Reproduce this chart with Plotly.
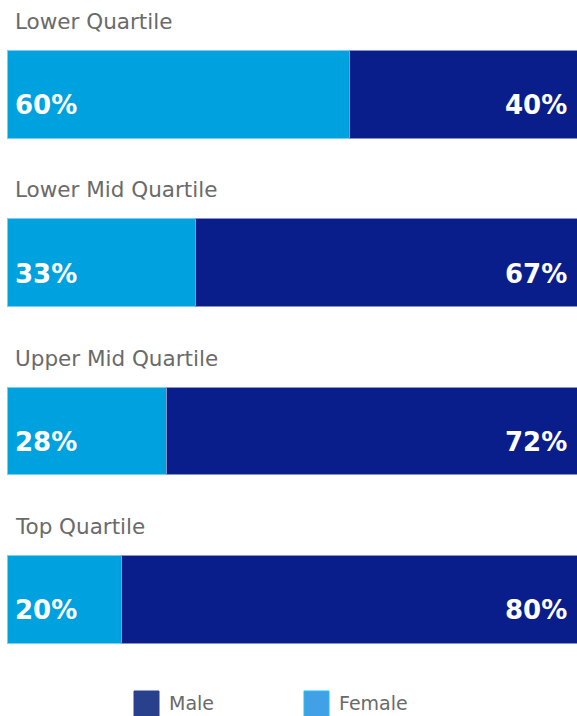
import plotly.graph_objects as go

categories = ["Lower Quartile", "Lower Mid Quartile", "Upper Mid Quartile", "Top Quartile"]
female = [60, 33, 28, 20]
male = [40, 67, 72, 80]
series_names = ["Male", "Female"]

FEMALE_C = "#00A1DF"
MALE_C = "#0A1E8B"
LEG_MALE_C = "#29418D"
LEG_FEMALE_C = "#42A0E6"
FONT = "DejaVu Sans"

idx = list(range(len(categories)))

fig = go.Figure()
fig.add_trace(go.Bar(
    y=idx, x=female, orientation="h", name="Female",
    marker=dict(color=FEMALE_C, line=dict(color="#7fcdee", width=1)),
    width=0.52, showlegend=False, hoverinfo="skip"))
fig.add_trace(go.Bar(
    y=idx, x=male, orientation="h", name="Male",
    marker=dict(color=MALE_C, line=dict(color="#8a92c8", width=1)),
    width=0.52, showlegend=False, hoverinfo="skip"))

ann = []
for i, cat in enumerate(categories):
    ann.append(dict(x=0, xref="x", y=i, yref="y", text=cat, showarrow=False,
                    xanchor="left", yanchor="middle", xshift=6, yshift=73,
                    font=dict(family=FONT, size=21.5, color="#6a6a6a")))
    ann.append(dict(x=0, xref="x", y=i, yref="y", text=f"{female[i]}%", showarrow=False,
                    xanchor="left", yanchor="middle", xshift=6, yshift=-11,
                    font=dict(family=FONT, size=26, color="white", weight="bold")))
    ann.append(dict(x=female[i] + male[i], xref="x", y=i, yref="y", text=f"{male[i]}%",
                    showarrow=False, xanchor="right", yanchor="middle", xshift=-8, yshift=-11,
                    font=dict(family=FONT, size=26, color="white", weight="bold")))

# manual legend
W, H = 577, 716
PW = 570
shapes = []
leg_items = [(series_names[0], LEG_MALE_C, LEG_MALE_C, 134), (series_names[1], LEG_FEMALE_C, "#1ec0f2", 304)]
for name, col, lcol, x0 in leg_items:
    shapes.append(dict(type="rect", xref="paper", yref="paper",
                       x0=(x0 - 7) / PW, x1=(x0 + 25 - 7) / PW,
                       y0=(H - 717) / H, y1=(H - 691) / H,
                       fillcolor=col, line=dict(color=lcol, width=1)))
    ann.append(dict(x=(x0 + 33 - 7) / PW, xref="paper", y=(H - 703) / H, yref="paper",
                    text=name, showarrow=False, xanchor="left", yanchor="middle",
                    font=dict(family=FONT, size=19, color="#6a6a6a")))

C0, STEP = 94.4, 168.35
fig.update_layout(
    barmode="stack", width=W, height=H,
    margin=dict(l=7, r=0, t=0, b=0),
    plot_bgcolor="white", paper_bgcolor="white",
    xaxis=dict(range=[0, 100], visible=False, fixedrange=True),
    yaxis=dict(range=[(H - C0) / STEP, -C0 / STEP], visible=False, fixedrange=True),
    annotations=ann, shapes=shapes, showlegend=False,
)
fig.write_html("out.html", config={"displayModeBar": False},
               post_script="document.body.style.margin='0';document.body.style.overflow='hidden';")
